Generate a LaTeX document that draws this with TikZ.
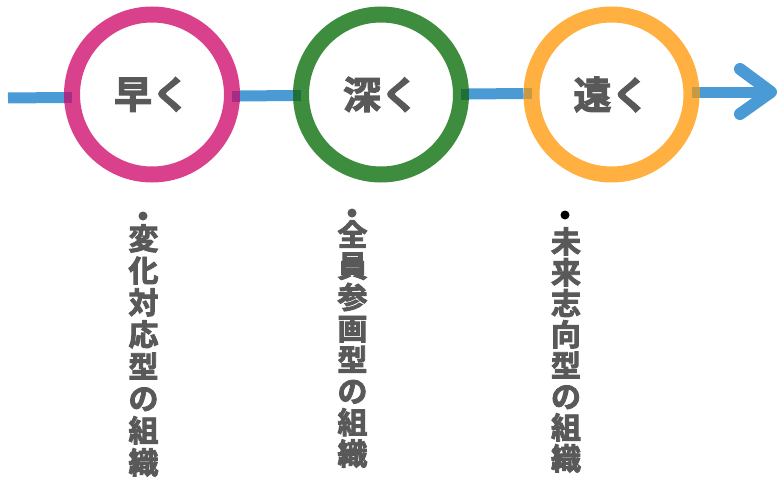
\documentclass[tikz,border=0pt]{standalone}
\usepackage{fontspec}
\newfontfamily\cjk[FakeBold=3]{Noto Sans CJK JP Bold}
\usetikzlibrary{calc}
\definecolor{cpink}{HTML}{D9418C}
\definecolor{cgreen}{HTML}{3E8C3E}
\definecolor{corange}{HTML}{FFB040}
\definecolor{cblue}{HTML}{4A9BD5}
\definecolor{ctext}{HTML}{595959}
\definecolor{ovpink}{HTML}{A62D85}
\definecolor{ovgreen}{HTML}{1F7038}
\definecolor{ovorange}{HTML}{C69A45}
\tikzset{
  ring/.style={circle, draw=#1, line width=16pt, minimum size=160pt, inner sep=0pt, outer sep=0pt,
    text=ctext, font=\cjk\fontsize{38}{40}\selectfont},
  link/.style={draw=cblue, line width=11pt},
  overlap/.style={draw=#1, line width=11pt},
  vtext/.style={anchor=north, align=center, inner sep=0pt, text=ctext, font=\cjk\fontsize{30}{#1}\selectfont},
  bullet/.style={circle, fill=#1, minimum size=9pt, inner sep=0pt},
}
\begin{document}
\begin{tikzpicture}[x=1pt,y=-1pt]
\useasboundingbox (0,0) rectangle (777,479);
\coordinate (start) at (8,98);
\coordinate (tip) at (771,92);
\node[ring=cpink] (c1) at (152,94.5) {早く};
\node[ring=cgreen] (c2) at (381,94.5) {深く};
\node[ring=corange] (c3) at (611.5,94.5) {遠く};
\draw[link] (start) -- ($(c1.west)+(-8,3)$);
\draw[link] ($(c1.east)+(8,1.5)$) -- ($(c2.west)+(-8,1)$);
\draw[link] ($(c2.east)+(8,-0.5)$) -- ($(c3.west)+(-8,-1)$);
\draw[link] ($(c3.east)+(8,-2.5)$) -- (tip);
\draw[cblue, line width=12pt, line cap=round, line join=round]
  ($(tip)+(-31,-23)$) -- (tip) -- ($(tip)+(-31,22)$);
\draw[overlap=ovpink] ($(c1.west)+(-8,3)$) -- ($(c1.west)+(0,3)$);
\draw[overlap=ovpink] ($(c1.east)+(8,1.5)$) -- ($(c1.east)+(0,1.5)$);
\draw[overlap=ovgreen] ($(c2.west)+(-8,1)$) -- ($(c2.west)+(0,1)$);
\draw[overlap=ovgreen] ($(c2.east)+(8,-0.5)$) -- ($(c2.east)+(0,-0.5)$);
\draw[overlap=ovorange] ($(c3.west)+(-8,-1)$) -- ($(c3.west)+(0,-1)$);
\draw[overlap=ovorange] ($(c3.east)+(8,-2.5)$) -- ($(c3.east)+(0,-2.5)$);
\node[bullet=ctext] (b1) at (143,216) {};
\node[bullet=ctext] (b2) at (352,213) {};
\node[bullet=black] (b3) at (565,215) {};
\node[vtext=32] (t1) at (143.5,224) {変\\化\\対\\応\\型\\の\\組\\織};
\node[vtext=31.3] (t2) at (352.5,220) {全\\員\\参\\画\\型\\の\\組\\織};
\node[vtext=31] (t3) at (566,227) {未\\来\\志\\向\\型\\の\\組\\織};
\end{tikzpicture}
\end{document}
